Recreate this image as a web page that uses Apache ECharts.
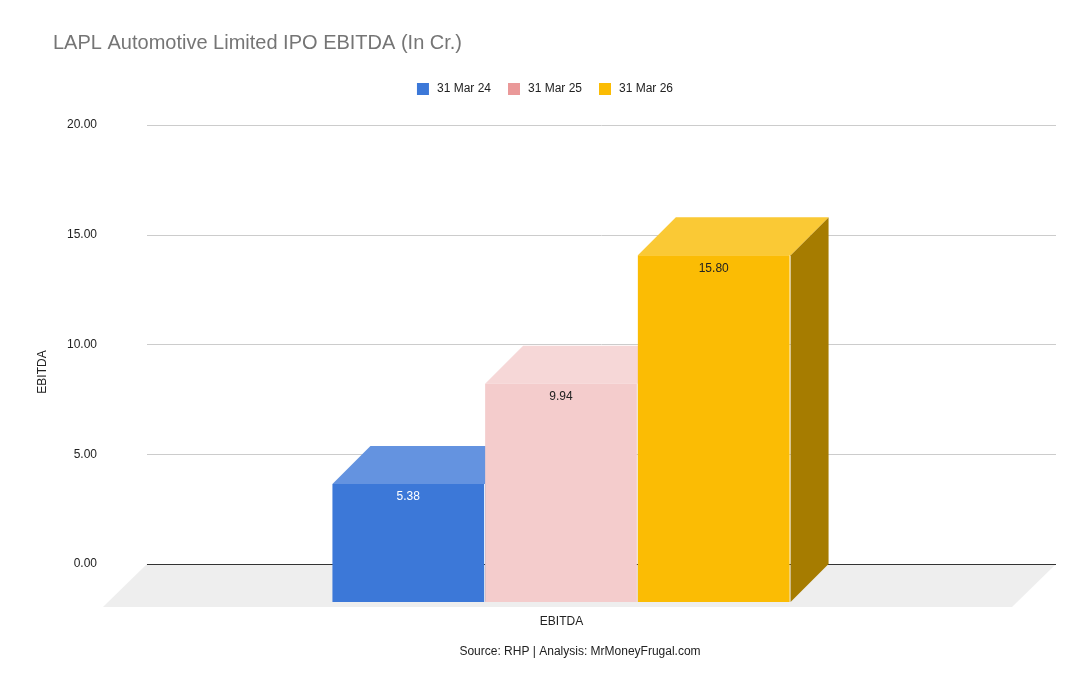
<!DOCTYPE html>
<html>
<head>
<meta charset="utf-8">
<title>LAPL Automotive Limited IPO EBITDA</title>
<script src="https://cdn.jsdelivr.net/npm/echarts@6/dist/echarts.min.js"></script>
<style>
  html, body { margin: 0; padding: 0; background: #fff; }
  #chart { width: 1090px; height: 694px; }
</style>
</head>
<body>
<div id="chart"></div>
<script>
// data
var categories = ['EBITDA'];
var seriesNames = ['31 Mar 24', '31 Mar 25', '31 Mar 26'];
var values = [5.38, 9.94, 15.80];
var yTicks = [0, 5, 10, 15, 20];

// colours: legend, front, top, side, label
var legendColors = ['#3c78d8', '#ea9999', '#fbbc04'];
var frontColors = ['#3c78d8', '#f4cccc', '#fbbc04'];
var topColors = ['#6493e0', '#f6d7d7', '#fac935'];
var sideColors = ['#2c5aa3', '#a08f8f', '#a67c00'];
var labelColors = ['#ffffff', '#222222', '#222222'];

var DX = 38, DY = 38;      // bar depth (towards the viewer)
var FDX = 44, FDY = 43;    // floor depth

var chart = echarts.init(document.getElementById('chart'));

function barRenderer(idx) {
    return function (params, api) {
        var top = api.coord([api.value(0), api.value(1)]);
        var base = api.coord([api.value(0), 0]);
        var band = api.size([1, 0])[0];
        var bw = band * 0.168;
        var x0 = top[0] - 1.5 * bw - 2 + idx * bw;
        var x1 = x0 + bw;
        var yt = top[1], yb = base[1];
        return {
            type: 'group',
            children: [
                { // right side
                    type: 'polygon',
                    shape: { points: [[x1, yt], [x1, yb], [x1 - DX, yb + DY], [x1 - DX, yt + DY]] },
                    style: { fill: sideColors[idx] }
                },
                { // top
                    type: 'polygon',
                    shape: { points: [[x0, yt], [x1, yt], [x1 - DX, yt + DY], [x0 - DX, yt + DY]] },
                    style: { fill: topColors[idx] }
                },
                { // front
                    type: 'rect',
                    shape: { x: x0 - DX, y: yt + DY, width: bw - 1, height: yb - yt },
                    style: { fill: frontColors[idx] }
                },
                {
                    type: 'text',
                    x: x0 - DX + (bw - 1) / 2,
                    y: yt + DY + 13,
                    style: {
                        text: api.value(1).toFixed(2),
                        fill: labelColors[idx],
                        font: '12px "Liberation Sans", Arial, sans-serif',
                        align: 'center',
                        verticalAlign: 'middle'
                    }
                }
            ]
        };
    };
}

function floorRenderer(params, api) {
    var cs = params.coordSys;
    var y0 = api.coord([0, 0])[1];
    var xl = cs.x, xr = cs.x + cs.width;
    return {
        type: 'group',
        children: [
            {
                type: 'polygon',
                shape: { points: [[xl, y0], [xr, y0], [xr - FDX, y0 + FDY], [xl - FDX, y0 + FDY]] },
                style: { fill: '#eeeeee' }
            },
            {
                type: 'line',
                shape: { x1: xl, y1: y0 + 0.5, x2: xr, y2: y0 + 0.5 },
                style: { stroke: '#333333', lineWidth: 1 }
            }
        ]
    };
}

var series = [{
    type: 'custom',
    name: 'floor',
    z: 1,
    silent: true,
    clip: false,
    renderItem: floorRenderer,
    data: [[0, 0]]
}];
seriesNames.forEach(function (name, i) {
    series.push({
        type: 'custom',
        name: name,
        z: 2 + i,
        clip: false,
        itemStyle: { color: legendColors[i] },
        renderItem: barRenderer(i),
        encode: { x: 0, y: 1 },
        data: [[0, values[i]]]
    });
});

var option = {
    backgroundColor: '#ffffff',
    animation: false,
    textStyle: { fontFamily: '"Liberation Sans", Arial, sans-serif' },
    title: {
        text: 'LAPL Automotive Limited IPO EBITDA (In Cr.)',
        left: 53,
        top: 33,
        padding: 0,
        textStyle: { fontSize: 20, fontWeight: 'normal', color: '#757575' }
    },
    legend: {
        data: seriesNames,
        top: 78,
        left: 'center',
        icon: 'rect',
        itemWidth: 12,
        itemHeight: 12,
        itemGap: 17,
        textStyle: { fontSize: 12, color: '#222222', padding: [0, 0, 0, 3] }
    },
    grid: { left: 147, right: 34, top: 125, bottom: 130 },
    xAxis: {
        type: 'category',
        data: categories,
        axisLine: { show: false },
        axisTick: { show: false },
        axisLabel: { margin: 52, fontSize: 12, color: '#222222', padding: [0, 80, 0, 0] },
        splitLine: { show: false }
    },
    yAxis: {
        type: 'value',
        min: yTicks[0],
        max: yTicks[yTicks.length - 1],
        interval: 5,
        axisLine: { show: false },
        axisTick: { show: false },
        axisLabel: {
            margin: 50,
            fontSize: 12,
            color: '#222222',
            padding: [3, 0, 0, 0],
            formatter: function (v) { return v.toFixed(2); }
        },
        splitLine: { lineStyle: { color: '#cccccc' } }
    },
    graphic: [
        {
            type: 'text',
            x: 43,
            y: 372,
            rotation: Math.PI / 2,
            style: {
                text: 'EBITDA',
                fill: '#222222',
                font: '12px "Liberation Sans", Arial, sans-serif',
                align: 'center',
                verticalAlign: 'middle'
            }
        },
        {
            type: 'text',
            x: 580,
            y: 652,
            style: {
                text: 'Source: RHP | Analysis: MrMoneyFrugal.com',
                fill: '#222222',
                font: '12px "Liberation Sans", Arial, sans-serif',
                align: 'center',
                verticalAlign: 'middle'
            }
        }
    ],
    series: series
};

chart.setOption(option);
window.onresize = function () {
    chart.resize();
};
</script>
</body>
</html>
